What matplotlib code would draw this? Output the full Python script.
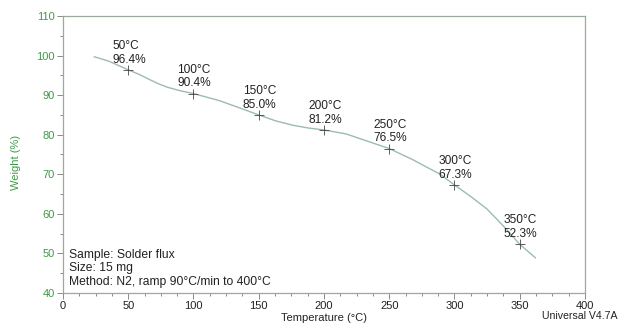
#!/usr/bin/env python3
"""TGA curve of solder flux with marked weight points."""

import matplotlib
matplotlib.use("Agg")
import matplotlib.pyplot as plt
from matplotlib.ticker import MultipleLocator

# curve
curve_temp = [24, 35, 50, 58, 66, 73, 80, 90, 100, 120, 136, 150, 163, 176, 188, 200, 217, 233, 250, 268,
              289, 300, 312, 325, 337, 350, 362]
curve_weight = [99.7, 98.6, 96.4, 95.3, 94.0, 92.9, 92.0, 91.1, 90.4, 88.6, 86.7, 85.0, 83.5, 82.4, 81.7,
                81.2, 80.2, 78.4, 76.5, 73.7, 70.0, 67.3, 64.5, 61.2, 57.1, 52.3, 48.9]

# marked points
mark_temp = [50, 100, 150, 200, 250, 300, 350]
mark_weight = [96.4, 90.4, 85.0, 81.2, 76.5, 67.3, 52.3]

info_lines = ["Sample: Solder flux", "Size: 15 mg", "Method: N2, ramp 90°C/min to 400°C"]

green = "#3f9a45"
frame = "#9aaa9c"
line_col = "#9dbcaa"

plt.rcParams["font.family"] = ["Liberation Sans", "DejaVu Sans"]
plt.rcParams["font.size"] = 8

fig = plt.figure(figsize=(6.21, 3.24), dpi=100)
ax = fig.add_axes([0.1014, 0.0957, 0.8406, 0.8549])

ax.plot(curve_temp, curve_weight, color=line_col, lw=1.0)
ax.plot(mark_temp, mark_weight, ls="none", marker="+", color="#444444", ms=7, mew=0.6)

for t, w in zip(mark_temp, mark_weight):
    ax.annotate(f"{t}°C\n{w:.1f}%", (t, w), xytext=(-11.5, 3), textcoords="offset points",
                ha="left", va="bottom", fontsize=8.6, color="#222222", linespacing=1.2)

ax.text(0.012, 0.16, "\n".join(info_lines), transform=ax.transAxes, ha="left", va="top",
        fontsize=8.7, color="#222222", linespacing=1.2)

ax.set_xlim(0, 400)
ax.set_ylim(40, 110)
ax.xaxis.set_major_locator(MultipleLocator(50))
ax.xaxis.set_minor_locator(MultipleLocator(12.5))
ax.yaxis.set_major_locator(MultipleLocator(10))
ax.yaxis.set_minor_locator(MultipleLocator(5))

for s in ax.spines.values():
    s.set_color(frame)
    s.set_linewidth(0.9)

ax.tick_params(axis="both", which="both", direction="out", color="#777777", width=0.6)
ax.tick_params(axis="both", which="major", length=4, pad=2)
ax.tick_params(axis="both", which="minor", length=2)
ax.tick_params(axis="y", labelcolor=green)
ax.tick_params(axis="x", labelcolor="#222222")

ax.set_xlabel("Temperature (°C)", color="#222222", labelpad=1)
ax.set_ylabel("Weight (%)", color=green)
ax.yaxis.set_label_coords(-0.08, 0.47)

fig.text(0.995, 0.01, "Universal V4.7A", ha="right", va="bottom", fontsize=7.6, color="#222222")

fig.savefig("out.png", dpi=100)
